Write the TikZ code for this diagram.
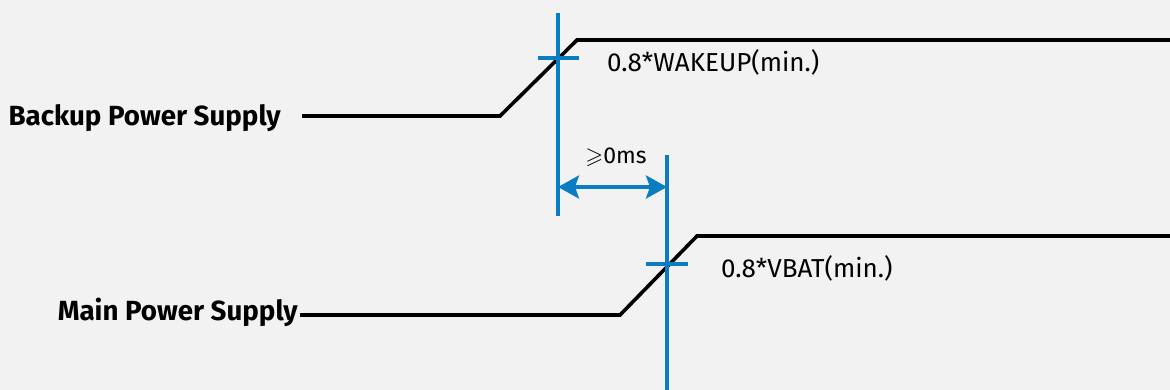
\documentclass[tikz,border=0pt]{standalone}
\usepackage{amssymb}
\usepackage{fontspec}
\setmainfont{Fira Sans}
\usetikzlibrary{arrows.meta}
\definecolor{bgcol}{HTML}{F2F2F2}
\definecolor{markblue}{HTML}{0A7DC2}
\tikzset{
  signal/.style={black, line width=3.6pt, line join=miter},
  marker/.style={markblue, line width=3.6pt},
  signame/.style={font=\fontsize{27.7}{32}\selectfont\bfseries, inner sep=0pt},
  levelnote/.style={font=\fontsize{26}{30}\selectfont, inner sep=0pt, anchor=west}
}

\begin{document}
\begin{tikzpicture}[x=1pt,y=-1pt]
\useasboundingbox (0,0) rectangle (1170,390);
\fill[bgcol] (0,0) rectangle (1170,390);
% backup supply
\node[signame, anchor=east] (backup) at (281,118) {Backup Power Supply};
\coordinate (b0) at (302,116);
\coordinate (b1) at (500,116);
\coordinate (b2) at (577,40);
\coordinate (b3) at (1170,40);
\draw[signal] (b0) -- (b1) -- (b2) -- (b3);
% main supply
\node[signame, anchor=east] (main) at (298,312) {Main Power Supply};
\coordinate (m0) at (300,315);
\coordinate (m1) at (620,315);
\coordinate (m2) at (697,236);
\coordinate (m3) at (1170,236);
\draw[signal] (m0) -- (m1) -- (m2) -- (m3);
% threshold markers
\coordinate (wtop) at (558,13);
\coordinate (wbot) at (558,216);
\coordinate (vtop) at (667,155);
\coordinate (vbot) at (667,390);
\draw[marker] (wtop) -- (wbot);
\draw[marker] (538,58) -- (579,58);
\draw[marker] (vtop) -- (vbot);
\draw[marker] (646,264) -- (688,264);
\node[levelnote] (wlevel) at (607,62) {0.8*WAKEUP(min.)};
\node[levelnote] (vlevel) at (721,268) {0.8*VBAT(min.)};
% delay
\draw[marker, {Stealth[length=21pt, width=23pt, inset=4pt]}-{Stealth[length=21pt, width=23pt, inset=4pt]}]
  (558,187) -- (667,187);
\node[levelnote, anchor=center, font=\fontsize{23}{27}\selectfont] (delay) at (616,157) {$\geqslant$0ms};
\end{tikzpicture}
\end{document}
